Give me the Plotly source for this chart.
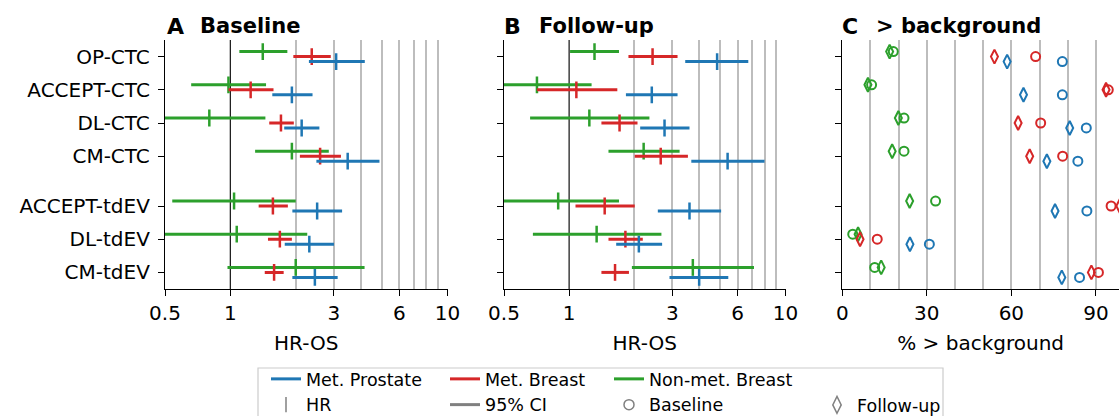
import math
import plotly.graph_objects as go

# ---------------- data ----------------
categories = ["OP-CTC", "ACCEPT-CTC", "DL-CTC", "CM-CTC", "ACCEPT-tdEV", "DL-tdEV", "CM-tdEV"]
series_names = ["Met. Prostate", "Met. Breast", "Non-met. Breast"]

# Panel A: baseline HR-OS (HR, lower 95% CI, upper 95% CI)
prostate_base_hr = [3.07, 1.92, 2.13, 3.47, 2.51, 2.31, 2.45]
prostate_base_lo = [2.30, 1.56, 1.77, 2.49, 1.93, 1.78, 1.93]
prostate_base_hi = [4.16, 2.39, 2.57, 4.86, 3.27, 3.00, 3.12]
breast_base_hr = [2.37, 1.24, 1.71, 2.59, 1.57, 1.69, 1.59]
breast_base_lo = [1.95, 0.98, 1.51, 2.09, 1.35, 1.49, 1.44]
breast_base_hi = [2.90, 1.58, 1.96, 3.23, 1.84, 1.92, 1.76]
nonmet_base_hr = [1.41, 0.98, 0.80, 1.92, 1.04, 1.07, 2.00]
nonmet_base_lo = [1.10, 0.66, 0.45, 1.30, 0.54, 0.45, 0.97]
nonmet_base_hi = [1.83, 1.46, 1.45, 2.84, 2.00, 2.26, 4.15]

# Panel B: follow-up HR-OS
prostate_fu_hr = [4.83, 2.41, 2.76, 5.40, 3.60, 2.10, 3.99]
prostate_fu_lo = [3.44, 1.83, 2.13, 3.67, 2.57, 1.65, 2.91]
prostate_fu_hi = [6.73, 3.17, 3.60, 8.00, 5.04, 2.69, 5.44]
breast_fu_hr = [2.43, 1.08, 1.71, 2.65, 1.46, 1.82, 1.63]
breast_fu_lo = [1.88, 0.71, 1.41, 2.01, 1.07, 1.52, 1.41]
breast_fu_hi = [3.17, 1.67, 2.07, 3.54, 2.01, 2.19, 1.89]
nonmet_fu_hr = [1.31, 0.71, 1.24, 2.21, 0.89, 1.34, 3.73]
nonmet_fu_lo = [1.01, 0.42, 0.66, 1.52, 0.40, 0.68, 1.95]
nonmet_fu_hi = [1.70, 1.27, 2.35, 3.24, 1.70, 2.67, 7.15]

# Panel C: % > background (baseline / follow-up)
prostate_pct_base = [78.1, 78.1, 86.6, 83.6, 86.8, 30.9, 84.2]
prostate_pct_fu = [58.5, 64.3, 80.7, 72.6, 75.5, 24.0, 77.9]
breast_pct_base = [68.6, 94.4, 70.4, 78.2, 95.4, 12.4, 90.9]
breast_pct_fu = [54.0, 93.6, 62.4, 66.5, 98.5, 6.3, 88.4]
nonmet_pct_base = [18.1, 10.4, 21.9, 21.9, 33.1, 3.7, 11.5]
nonmet_pct_fu = [16.8, 9.1, 19.9, 17.7, 23.9, 5.6, 13.8]

hr_ticks = [0.5, 1, 3, 6, 10]
hr_grid = [2, 3, 4, 5, 6, 7, 8, 9, 10]
pct_ticks = [0, 30, 60, 90]
pct_grid = [10, 20, 30, 40, 50, 60, 70, 80, 90]

# ---------------- styling ----------------
colors = {"Met. Prostate": "#1f77b4", "Met. Breast": "#d62728", "Non-met. Breast": "#2ca02c"}
offsets = {"Met. Prostate": 0.15, "Met. Breast": 0.0, "Non-met. Breast": -0.15}
FONT = "DejaVu Sans"
W, H = 1119, 416

# category positions: tdEV group separated by an extra half step
ypos = [i + (0.5 if "tdEV" in c else 0.0) for i, c in enumerate(categories)]

panelA = {
    "Met. Prostate": (prostate_base_hr, prostate_base_lo, prostate_base_hi),
    "Met. Breast": (breast_base_hr, breast_base_lo, breast_base_hi),
    "Non-met. Breast": (nonmet_base_hr, nonmet_base_lo, nonmet_base_hi),
}
panelB = {
    "Met. Prostate": (prostate_fu_hr, prostate_fu_lo, prostate_fu_hi),
    "Met. Breast": (breast_fu_hr, breast_fu_lo, breast_fu_hi),
    "Non-met. Breast": (nonmet_fu_hr, nonmet_fu_lo, nonmet_fu_hi),
}
panelC = {
    "Met. Prostate": (prostate_pct_base, prostate_pct_fu),
    "Met. Breast": (breast_pct_base, breast_pct_fu),
    "Non-met. Breast": (nonmet_pct_base, nonmet_pct_fu),
}

fig = go.Figure()

draw_order = ["Non-met. Breast", "Met. Breast", "Met. Prostate"]

for panel, xa, ya in [(panelA, "x", "y"), (panelB, "x2", "y2")]:
    for s in draw_order:
        hr, lo, hi = panel[s]
        ys = [p + offsets[s] for p in ypos]
        cx, cy = [], []
        for l, h_, yy in zip(lo, hi, ys):
            cx += [l, h_, None]
            cy += [yy, yy, None]
        fig.add_trace(go.Scatter(x=cx, y=cy, mode="lines", xaxis=xa, yaxis=ya,
                                 line=dict(color=colors[s], width=3),
                                 showlegend=False, hoverinfo="skip"))
        fig.add_trace(go.Scatter(x=hr, y=ys, mode="markers", xaxis=xa, yaxis=ya,
                                 marker=dict(symbol="line-ns-open", size=12, color=colors[s],
                                             line=dict(color=colors[s], width=2.5)),
                                 showlegend=False))

for s in draw_order:
    base, fu = panelC[s]
    ys = [p + offsets[s] for p in ypos]
    fig.add_trace(go.Scatter(x=fu, y=ys, mode="markers", xaxis="x3", yaxis="y3",
                             marker=dict(symbol="diamond-tall-open", size=10, color=colors[s],
                                         line=dict(color=colors[s], width=2)),
                             showlegend=False))
    fig.add_trace(go.Scatter(x=base, y=ys, mode="markers", xaxis="x3", yaxis="y3",
                             marker=dict(symbol="circle-open", size=9, color=colors[s],
                                         line=dict(color=colors[s], width=2)),
                             showlegend=False))

# ---------------- legend entries ----------------
gray = "#808080"
leg_entries = [
    ("Met. Prostate", dict(mode="lines", line=dict(color=colors["Met. Prostate"], width=3)), "legend"),
    ("HR", dict(mode="markers", marker=dict(symbol="line-ns-open", size=11, color=gray, line=dict(color=gray, width=1.5))), "legend"),
    ("Met. Breast", dict(mode="lines", line=dict(color=colors["Met. Breast"], width=3)), "legend2"),
    ("95% CI", dict(mode="lines", line=dict(color=gray, width=3)), "legend2"),
    ("Non-met. Breast", dict(mode="lines", line=dict(color=colors["Non-met. Breast"], width=3)), "legend3"),
    ("Baseline", dict(mode="markers", marker=dict(symbol="circle-open", size=10, color=gray, line=dict(color=gray, width=1.5))), "legend3"),
    ("Follow-up", dict(mode="markers", marker=dict(symbol="diamond-tall-open", size=12, color=gray, line=dict(color=gray, width=1.5))), "legend4"),
]
for name, kw, lg in leg_entries:
    fig.add_trace(go.Scatter(x=[None], y=[None], name=name, legend=lg, showlegend=True,
                             xaxis="x3", yaxis="y3", **kw))

# ---------------- axes ----------------
def px_x(p):
    return p / W

def px_y(p):
    return 1 - p / H

ydom = [px_y(289), px_y(40)]
axis_common = dict(showline=True, linecolor="black", linewidth=1.3, ticks="outside",
                   ticklen=6, tickwidth=1.3, tickcolor="black", zeroline=False, automargin=False,
                   tickfont=dict(family=FONT, size=20, color="black"))

yaxis_common = dict(axis_common, range=[7.0, -0.5], tickmode="array", tickvals=ypos,
                    ticktext=categories, showgrid=False, domain=ydom, ticklabelstandoff=4)

grid_style = dict(showgrid=True, gridcolor="#bdbdbd", gridwidth=1.5, ticks="")

xa_log = dict(axis_common, type="log", range=[math.log10(0.5), 1], tickmode="array",
              tickvals=hr_ticks, ticktext=[str(t) for t in hr_ticks], showgrid=False,
              minor=dict(grid_style, tickmode="array", tickvals=hr_grid),
              title=dict(text="HR-OS", font=dict(family=FONT, size=20, color="black"), standoff=11))

fig.update_layout(
    width=W, height=H,
    margin=dict(l=0, r=0, t=0, b=0, autoexpand=False),
    paper_bgcolor="white", plot_bgcolor="white",
    font=dict(family=FONT, color="black"),
    xaxis=dict(xa_log, domain=[px_x(165), px_x(447.5)], anchor="y"),
    xaxis2=dict(xa_log, domain=[px_x(504), px_x(785.5)], anchor="y2"),
    xaxis3=dict(axis_common, range=[0, 98.2], tickmode="array", tickvals=pct_ticks,
                showgrid=False, domain=[px_x(842.3), 1.0], anchor="y3",
                minor=dict(grid_style, tickmode="array", tickvals=pct_grid),
                title=dict(text="% > background", font=dict(family=FONT, size=20, color="black"), standoff=11)),
    yaxis=dict(yaxis_common, anchor="x"),
    yaxis2=dict(yaxis_common, anchor="x2", showticklabels=False),
    yaxis3=dict(yaxis_common, anchor="x3", showticklabels=False),
    showlegend=True,
)

leg_common = dict(orientation="v", xanchor="left", yanchor="top", bgcolor="rgba(0,0,0,0)",
                  borderwidth=0, font=dict(family=FONT, size=17.5, color="black"),
                  tracegroupgap=0)
fig.update_layout(
    legend=dict(leg_common, x=px_x(266), y=px_y(361)),
    legend2=dict(leg_common, x=px_x(445), y=px_y(361)),
    legend3=dict(leg_common, x=px_x(609), y=px_y(361)),
    legend4=dict(leg_common, x=px_x(817), y=px_y(387)),
)

# reference line at HR = 1
for xa in ["x", "x2"]:
    fig.add_shape(type="line", xref=xa, yref="y domain" if xa == "x" else "y2 domain",
                  x0=1, x1=1, y0=0, y1=1, line=dict(color="#222222", width=1.3), layer="below")

# legend frame
fig.add_shape(type="rect", xref="paper", yref="paper", x0=px_x(258), x1=px_x(943),
              y0=px_y(430), y1=px_y(368), line=dict(color="#cccccc", width=1.2))

# panel titles
titles = [("A", 165, "Baseline", 198), ("B", 502, "Follow-up", 537), ("C", 840, "&gt; background", 874)]
for letter, lx, txt, tx in titles:
    fig.add_annotation(text="<b>%s</b>" % letter, x=px_x(lx), y=px_y(26), xref="paper", yref="paper",
                       xanchor="left", yanchor="middle", showarrow=False,
                       font=dict(family=FONT, size=22, color="black"))
    fig.add_annotation(text="<b>%s</b>" % txt, x=px_x(tx), y=px_y(26), xref="paper", yref="paper",
                       xanchor="left", yanchor="middle", showarrow=False,
                       font=dict(family=FONT, size=21, color="black"))

fig.write_html("out.html", config={"displayModeBar": False},
               post_script="document.body.style.margin='0px';document.body.style.overflow='hidden';")
